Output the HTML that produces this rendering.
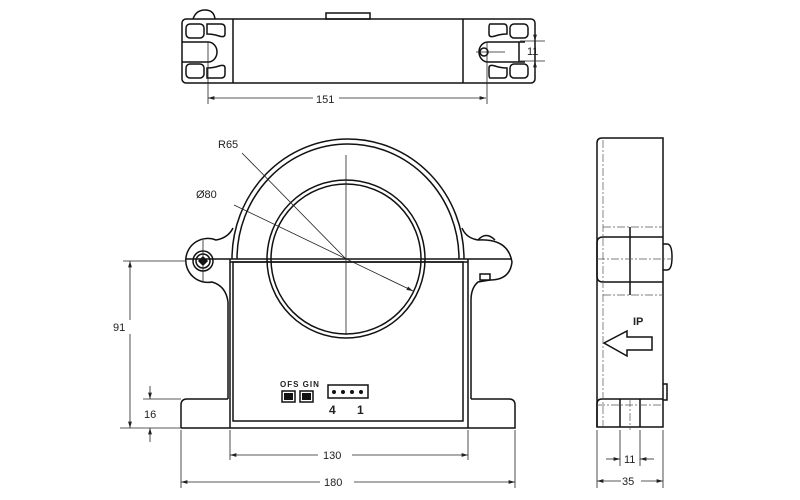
<!DOCTYPE html>
<html><head><meta charset="utf-8"><style>
html,body{margin:0;padding:0;background:#fff;width:800px;height:500px;overflow:hidden}
svg{display:block}
text{font-family:"Liberation Sans",sans-serif;fill:#222}
</style></head><body>
<svg width="800" height="500" viewBox="0 0 800 500" xmlns="http://www.w3.org/2000/svg">
<defs>
<marker id="a" viewBox="0 0 10 6" refX="10" refY="3" markerWidth="8" markerHeight="5" orient="auto-start-reverse"><path d="M0,0L10,3L0,6z" fill="#222"/></marker>
</defs>
<g fill="none" stroke="#111" stroke-width="1.5">
<!-- TOP VIEW -->
<rect x="182" y="19" width="353" height="64" rx="4"/>
<line x1="233" y1="19" x2="233" y2="83"/>
<line x1="463" y1="19" x2="463" y2="83"/>
<path d="M193,19 Q196,10 205,10 Q214,10 215,19"/>
<rect x="326" y="13" width="44" height="6"/>
<rect x="186" y="24" width="18" height="14" rx="4"/><rect x="186" y="64" width="18" height="14" rx="4"/>
<path d="M207,24 h14 q4,0 4,4 v6 q0,4 -6,2 q-6,-2 -12,-2 v-6 q0,-4 0,-4z"/>
<path d="M207,78 h14 q4,0 4,-4 v-6 q0,-4 -6,-2 q-6,2 -12,2 v6z"/>
<path d="M182,42 h26 a9,10 0 0 1 0,20 h-26"/>
<rect x="510" y="24" width="18" height="14" rx="4"/><rect x="510" y="64" width="18" height="14" rx="4"/>
<path d="M490,24 h14 q3,0 3,4 v6 q-6,0 -12,2 q-6,2 -6,-2 v-6 q0,-4 1,-4z"/>
<path d="M490,78 h14 q3,0 3,-4 v-6 q-6,0 -12,-2 q-6,-2 -6,2 v6 q0,4 1,4z"/>
<path d="M525,42 h-37 a9,10 0 0 0 0,20 h37 M519,42 v20"/>
<circle cx="484" cy="52" r="4"/>
</g>
<g fill="none" stroke="#222" stroke-width="0.8">
<line x1="208" y1="42" x2="208" y2="104"/><line x1="487" y1="42" x2="487" y2="104"/>
<line x1="208" y1="98" x2="486" y2="98" marker-start="url(#a)" marker-end="url(#a)"/>
<line x1="476" y1="52" x2="505" y2="52"/>
<line x1="520" y1="41" x2="545" y2="41"/><line x1="520" y1="61" x2="545" y2="61"/>
<line x1="535" y1="30" x2="535" y2="41" marker-end="url(#a)"/><line x1="535" y1="72" x2="535" y2="61" marker-end="url(#a)"/>
</g>
<rect x="313" y="92" width="26" height="12" fill="#fff"/>
<text x="316" y="103" font-size="11">151</text>
<text x="527" y="55" font-size="11">11</text>

<!-- FRONT VIEW -->
<g fill="none" stroke="#111" stroke-width="1.5">
<path d="M232,259 A116,120 0 0 1 464,259"/>
<path d="M237,259 A111,115 0 0 1 459,259"/>
<circle cx="346" cy="259" r="79"/>
<circle cx="346" cy="259" r="75"/>
<path d="M233,228 Q228,238 216,240 A22,22 0 1 0 212,282 Q226,286 228,302 V399"/>
<circle cx="203" cy="261" r="10"/>
<circle cx="203" cy="261" r="7"/>
<path d="M199,261 l4,-4 l4,4 l-4,4z" fill="#111"/>
<path d="M462,228 Q466,238 478,240 Q508,238 512,262 Q510,280 490,280 L478,282 Q471,288 471,300 V399"/>
<path d="M478,240 q8,-9 17,0"/>
<rect x="480" y="274" width="10" height="6"/>
<line x1="186" y1="259" x2="512" y2="259"/>
<line x1="230" y1="262" x2="468" y2="262"/>
<line x1="230" y1="259" x2="230" y2="428"/>
<line x1="468" y1="259" x2="468" y2="428"/>
<rect x="233" y="262" width="230" height="159"/>
<path d="M181,428 V405 q0,-6 6,-6 H228 M471,399 H509 q6,0 6,6 V428 H181"/>
<rect x="282" y="391" width="13" height="11"/><rect x="300" y="391" width="13" height="11"/>
<rect x="328" y="385" width="40" height="13"/>
</g>
<g fill="#111">
<rect x="284" y="393" width="9" height="7"/><rect x="302" y="393" width="9" height="7"/>
<circle cx="334" cy="392" r="2"/><circle cx="343" cy="392" r="2"/><circle cx="352" cy="392" r="2"/><circle cx="361" cy="392" r="2"/>
</g>
<text x="280" y="387" font-size="8" font-weight="bold" letter-spacing="1">OFS GIN</text>
<text x="329" y="414" font-size="12" font-weight="bold">4</text>
<text x="357" y="414" font-size="12" font-weight="bold">1</text>
<g fill="none" stroke="#222" stroke-width="0.8">
<line x1="346" y1="155" x2="346" y2="335"/>
<line x1="123" y1="261" x2="186" y2="261"/>
<line x1="203" y1="240" x2="203" y2="282"/>
<line x1="242" y1="153" x2="346" y2="259"/>
<line x1="234" y1="205" x2="413" y2="291" marker-end="url(#a)"/>
<line x1="130" y1="261" x2="130" y2="428" marker-start="url(#a)" marker-end="url(#a)"/>
<line x1="120" y1="428" x2="181" y2="428"/>
<line x1="143" y1="399" x2="181" y2="399"/>
<line x1="150" y1="386" x2="150" y2="399" marker-end="url(#a)"/>
<line x1="150" y1="442" x2="150" y2="428" marker-end="url(#a)"/>
<line x1="181" y1="430" x2="181" y2="488"/><line x1="515" y1="430" x2="515" y2="488"/>
<line x1="230" y1="430" x2="230" y2="460"/><line x1="468" y1="430" x2="468" y2="460"/>
<line x1="230" y1="455" x2="468" y2="455" marker-start="url(#a)" marker-end="url(#a)"/>
<line x1="181" y1="482" x2="515" y2="482" marker-start="url(#a)" marker-end="url(#a)"/>
</g>
<rect x="318" y="448" width="34" height="14" fill="#fff"/>
<rect x="320" y="475" width="34" height="14" fill="#fff"/>
<rect x="112" y="320" width="22" height="14" fill="#fff"/>
<text x="323" y="459" font-size="11">130</text>
<text x="324" y="486" font-size="11">180</text>
<text x="113" y="331" font-size="11">91</text>
<text x="144" y="418" font-size="11">16</text>
<text x="218" y="148" font-size="11">R65</text>
<text x="196" y="198" font-size="11">Ø80</text>

<!-- SIDE VIEW -->
<g fill="none" stroke="#111" stroke-width="1.5">
<path d="M597,427 V143 q0,-5 5,-5 H663 V427 Z"/>
<path d="M663,237 H603 q-6,0 -6,6 V276 q0,6 6,6 H663"/>
<line x1="630" y1="227" x2="630" y2="295"/>
<path d="M663,244 h4 q5,0 5,13 q0,13 -5,13 h-4"/>
<path d="M604,343 L627,331 V337 H652 V350 H627 V356 Z"/>
<path d="M597,427 V404 q0,-5 5,-5 H663"/>
<line x1="620" y1="399" x2="620" y2="427"/><line x1="640" y1="399" x2="640" y2="427"/>
<path d="M663,384 h4 v16 h-4"/>
</g>
<g fill="none" stroke="#555" stroke-width="0.7" stroke-dasharray="8,2,2,2">
<line x1="603" y1="140" x2="603" y2="427"/>
<line x1="603" y1="227" x2="663" y2="227"/>
<line x1="603" y1="295" x2="663" y2="295"/>
<line x1="597" y1="259" x2="672" y2="259"/>
<line x1="597" y1="405" x2="663" y2="405"/>
<line x1="630" y1="399" x2="630" y2="430"/>
</g>
<text x="633" y="325" font-size="11" font-weight="bold">IP</text>
<g fill="none" stroke="#222" stroke-width="0.8">
<line x1="597" y1="430" x2="597" y2="488"/><line x1="663" y1="430" x2="663" y2="488"/>
<line x1="620" y1="430" x2="620" y2="466"/><line x1="640" y1="430" x2="640" y2="466"/>
<line x1="606" y1="459" x2="620" y2="459" marker-end="url(#a)"/>
<line x1="654" y1="459" x2="640" y2="459" marker-end="url(#a)"/>
<line x1="597" y1="481" x2="663" y2="481" marker-start="url(#a)" marker-end="url(#a)"/>
</g>
<rect x="621" y="475" width="20" height="13" fill="#fff"/>
<text x="624" y="463" font-size="11">11</text>
<text x="622" y="485" font-size="11">35</text>
</svg>
</body></html>
